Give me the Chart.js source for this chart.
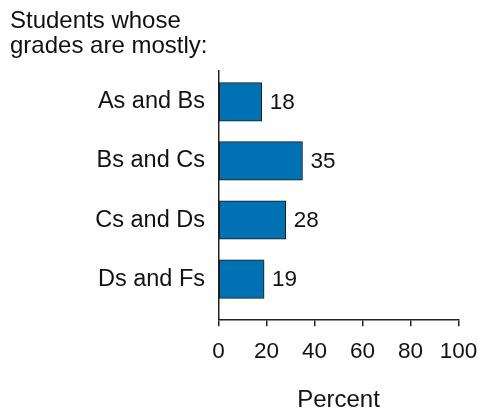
<!DOCTYPE html>
<html><head><meta charset="utf-8">
<script src="https://cdn.jsdelivr.net/npm/chart.js@4/dist/chart.umd.min.js"></script>
<style>html,body{margin:0;padding:0;background:#fff}#wrap{width:479px;height:416px;position:relative}</style>
</head><body><div id="wrap"><canvas id="c"></canvas></div>
<script>
const categories = ['As and Bs', 'Bs and Cs', 'Cs and Ds', 'Ds and Fs'];
const percentValues = [18, 35, 28, 19];
const xTickStep = 20;
const xMin = 0;
const xMax = 100;
const titleLines = ['Students whose', 'grades are mostly:'];
const xAxisTitle = 'Percent';

const FONT = "'Liberation Sans', Arial, Helvetica, sans-serif";
const TEXT = '#111111';
const AXIS = '#222222';

const valueLabels = {
  id: 'valueLabels',
  afterDatasetsDraw(chart) {
    const ctx = chart.ctx;
    const meta = chart.getDatasetMeta(0);
    ctx.save();
    ctx.font = '22.5px ' + FONT;
    ctx.fillStyle = TEXT;
    ctx.textAlign = 'left';
    ctx.textBaseline = 'middle';
    meta.data.forEach((bar, i) => {
      ctx.fillText(String(percentValues[i]), bar.x + 8, bar.y + 0.5);
    });
    ctx.restore();
  }
};

new Chart(document.getElementById('c'), {
  type: 'bar',
  data: {
    datasets: [{
      data: percentValues.map((v, i) => ({ x: v, y: i })),
      backgroundColor: '#0071b3',
      borderColor: '#1a1a1a',
      borderWidth: 1,
      borderSkipped: false,
      barThickness: 38.5
    }]
  },
  plugins: [valueLabels],
  options: {
    indexAxis: 'y',
    responsive: true,
    maintainAspectRatio: false,
    animation: false,
    layout: { padding: { left: 10, right: 0, top: 0, bottom: 0 } },
    plugins: {
      legend: { display: false },
      tooltip: { enabled: false },
      title: {
        display: true,
        text: titleLines,
        align: 'start',
        color: TEXT,
        font: { family: FONT, size: 24, weight: 'normal', lineHeight: 25 / 24 },
        padding: { top: 9, bottom: 11.5 }
      }
    },
    scales: {
      x: {
        type: 'linear',
        min: xMin,
        max: xMax,
        afterFit(scale) { scale.height = 96.7; scale.paddingRight = 20.5; scale.paddingLeft = 0; },
        ticks: {
          stepSize: xTickStep,
          color: TEXT,
          padding: 12,
          font: { family: FONT, size: 22.5 },
          maxRotation: 0
        },
        grid: {
          display: true,
          drawOnChartArea: false,
          drawTicks: true,
          tickLength: 7,
          color: AXIS,
          lineWidth: 1.5
        },
        border: { display: true, color: AXIS, width: 1.5 },
        title: {
          display: true,
          text: xAxisTitle,
          color: TEXT,
          font: { family: FONT, size: 24 },
          padding: { top: 0, bottom: 1.5 }
        }
      },
      y: {
        type: 'linear',
        reverse: true,
        offset: false,
        min: -0.53,
        max: 3.68,
        afterBuildTicks(scale) { scale.ticks = categories.map((_, i) => ({ value: i })); },
        afterFit(scale) { scale.width = 208.5; },
        ticks: {
          autoSkip: false,
          color: TEXT,
          padding: 13.5,
          font: { family: FONT, size: 23.5 },
          callback: (v) => categories[v] !== undefined ? categories[v] : ''
        },
        grid: { display: false, drawTicks: false, offset: false },
        border: { display: true, color: AXIS, width: 1.5 }
      }
    }
  }
});
</script>
</body></html>
